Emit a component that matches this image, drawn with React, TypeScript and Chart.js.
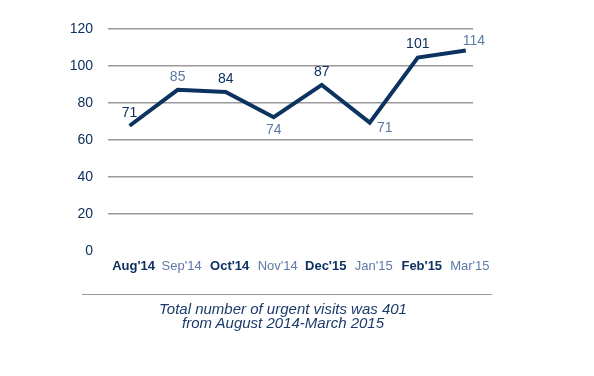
import React, { useEffect, useRef } from "react";
import { Chart, registerables } from "chart.js";

Chart.register(...registerables);

const months = ["Aug'14", "Sep'14", "Oct'14", "Nov'14", "Dec'15", "Jan'15", "Feb'15", "Mar'15"];
const lineValues = [67.7, 87.1, 86, 72.3, 89.8, 69.4, 104.6, 108.4];
const labelValues = [71, 85, 84, 74, 87, 71, 101, 114];
const labelPlacement = ["above", "above", "above", "below", "above", "belowRight", "above", "aboveRight"];
const yTicks = [0, 20, 40, 60, 80, 100, 120];
const captionLines = ["Total number of urgent visits was 401", "from August 2014-March 2015"];

const DARK = "#0e3160";
const LIGHT = "#5b7aa6";
const LINE = "#0c335f";
const FONT = "'Liberation Sans', Arial, sans-serif";

const placementOffset: Record<string, [number, number]> = {
  above: [0, -13],
  below: [0, 13],
  belowRight: [15, 6],
  aboveRight: [8, -9],
};

const labelPlugin = {
  id: "valueLabels",
  afterDatasetsDraw(chart: any) {
    const meta = chart.getDatasetMeta(0);
    const ctx = chart.ctx;
    ctx.save();
    ctx.font = `14px ${FONT}`;
    ctx.textAlign = "center";
    ctx.textBaseline = "middle";
    meta.data.forEach((pt: any, i: number) => {
      const off = placementOffset[labelPlacement[i]] || [0, -13];
      ctx.fillStyle = i % 2 === 0 ? DARK : LIGHT;
      ctx.fillText(String(labelValues[i]), pt.x + off[0], pt.y + off[1]);
    });
    ctx.restore();
  },
};

export default function App() {
  const ref = useRef<HTMLCanvasElement | null>(null);
  useEffect(() => {
    if (!ref.current) return;
    const chart = new Chart(ref.current, {
      type: "line",
      data: {
        datasets: [
          {
            data: lineValues.map((v, i) => ({ x: i, y: v })),
            borderColor: LINE,
            borderWidth: 4,
            pointRadius: 0,
            tension: 0,
            fill: false,
            borderJoinStyle: "miter",
          },
        ],
      },
      options: {
        responsive: false,
        animation: false,
        layout: { padding: { left: 0, right: 121, top: 29, bottom: 95 } },
        plugins: { legend: { display: false }, tooltip: { enabled: false } },
        scales: {
          x: {
            type: "linear",
            min: -0.45,
            max: 7.15,
            grid: { display: false },
            border: { display: false },
            afterBuildTicks: (scale: any) => {
              scale.ticks = months.map((_, i) => ({ value: i }));
            },
            afterFit: (scale: any) => {
              scale.height = 30;
            },
            ticks: {
              padding: 0,
              labelOffset: 4,
              autoSkip: false,
              maxRotation: 0,
              callback: (v: any) => months[v] ?? "",
              color: (c: any) => (c.index % 2 === 0 ? DARK : LIGHT),
              font: (c: any) => ({ family: FONT, size: 13, weight: c.index % 2 === 0 ? "bold" : "normal" }),
            },
          },
          y: {
            min: 0,
            max: 120,
            afterBuildTicks: (scale: any) => {
              scale.ticks = yTicks.map((v) => ({ value: v }));
            },
            afterFit: (scale: any) => {
              scale.width = 108;
            },
            border: { display: false },
            grid: {
              color: (c: any) => (c.tick && c.tick.value === 0 ? "rgba(0,0,0,0)" : "#9a9a9a"),
              lineWidth: 1.5,
              drawTicks: false,
            },
            ticks: {
              padding: 15,
              color: DARK,
              font: { family: FONT, size: 14 },
            },
          },
        },
      },
      plugins: [labelPlugin],
    } as any);
    return () => chart.destroy();
  }, []);

  return (
    <div style={{ position: "absolute", left: 0, top: 0, width: 594, height: 376, background: "#fff" }}>
      <canvas ref={ref} width={594} height={376} style={{ position: "absolute", left: 0, top: 0 }} />
      <div
        style={{
          position: "absolute",
          left: 82,
          top: 294,
          width: 410,
          height: 0,
          borderTop: "1px solid #9a9a9a",
        }}
      />
      <div
        style={{
          position: "absolute",
          left: 82,
          top: 302,
          width: 402,
          textAlign: "center",
          fontFamily: FONT,
          fontStyle: "italic",
          fontSize: 15,
          lineHeight: "14px",
          color: "#1b3b6a",
        }}
      >
        {captionLines.map((l, i) => (
          <div key={i}>{l}</div>
        ))}
      </div>
    </div>
  );
}
